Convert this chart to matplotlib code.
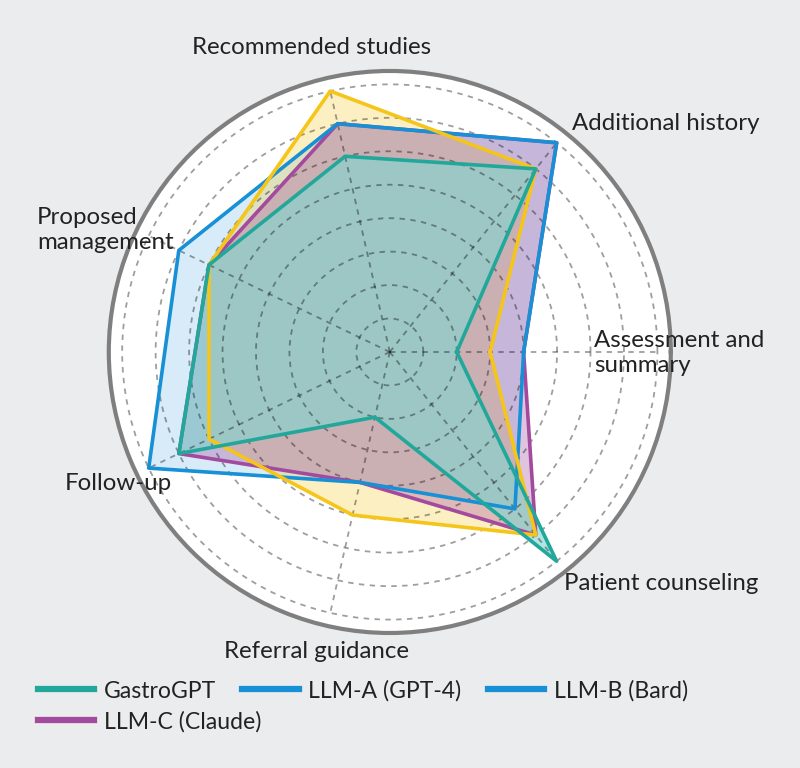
import numpy as np
import matplotlib.pyplot as plt
from matplotlib.lines import Line2D

# Data (radial score, one unit per ring)
categories = ["Assessment and\nsummary", "Additional history", "Recommended studies",
              "Proposed\nmanagement", "Follow-up", "Referral guidance", "Patient counseling"]
gastrogpt = [2, 7, 6, 6, 7, 2, 8]
llm_a = [4, 8, 7, 7, 8, 4, 6]
llm_b = [3, 7, 8, 6, 6, 5, 7]
llm_c = [4, 8, 7, 6, 7, 4, 7]

legend_labels = ["GastroGPT", "LLM-A (GPT-4)", "LLM-B (Bard)", "LLM-C (Claude)"]

teal = "#22a89b"
blue = "#1790d6"
yellow = "#f5c519"
purple = "#a34a9f"
bg = "#ebeced"

plt.rcParams['font.family'] = ['Lato', 'DejaVu Sans']

fig = plt.figure(figsize=(8, 7.68), dpi=100, facecolor=bg)
ax = fig.add_axes([0.136, 0.1758, 0.7025, 0.7318], projection='polar')
ax.set_facecolor("white")

n = len(categories)
angles = np.arange(n) * 2 * np.pi / n
theta = np.append(angles, angles[0])

def close(v):
    return np.append(v, v[0])

# fills: blue, yellow, purple, teal (teal on top)
ax.fill(theta, close(llm_a), color=blue, alpha=0.17, zorder=1, linewidth=0)
ax.fill(theta, close(llm_b), color=yellow, alpha=0.26, zorder=1, linewidth=0)
ax.fill(theta, close(llm_c), color=purple, alpha=0.33, zorder=1, linewidth=0)
ax.fill(theta, close(gastrogpt), color="#80d6d0", alpha=0.62, zorder=1, linewidth=0)

# outlines
ax.plot(theta, close(llm_c), color=purple, linewidth=2.6, zorder=3)
ax.plot(theta, close(llm_a), color=blue, linewidth=2.6, zorder=3)
ax.plot(theta, close(llm_b), color=yellow, linewidth=2.6, zorder=3)
ax.plot(theta, close(gastrogpt), color=teal, linewidth=2.6, zorder=3)

ax.set_ylim(0, 8.4)
ax.set_yticks(range(1, 9))
ax.set_yticklabels([])
ax.set_xticks(angles)
ax.set_xticklabels([])
ax.set_axisbelow(False)
ax.yaxis.grid(True, color="black", alpha=0.38, linestyle=(0, (3, 3)), linewidth=1.3)
ax.xaxis.grid(False)
for a in angles:
    ax.plot([a, a], [0, 8], color="black", alpha=0.38, linestyle=(0, (3, 3)),
            linewidth=1.3, zorder=2.5)
ax.spines['polar'].set_color("#7f7f7f")
ax.spines['polar'].set_linewidth(3)

# category labels (pixel positions from the reference)
W, H = 800, 768
fs = 17.3
txt = dict(fontsize=fs, color="#222222")
fig.text(594 / W, 1 - 353 / H, categories[0], ha="left", va="center", linespacing=1.2, **txt)
fig.text(572 / W, 1 - 123 / H, categories[1], ha="left", va="center", **txt)
fig.text(312 / W, 1 - 48 / H, categories[2], ha="center", va="center", **txt)
fig.text(37 / W, 1 - 230 / H, categories[3], ha="left", va="center", linespacing=1.2, **txt)
fig.text(172 / W, 1 - 483 / H, categories[4], ha="right", va="center", **txt)
fig.text(316 / W, 1 - 651 / H, categories[5], ha="center", va="center", **txt)
fig.text(564 / W, 1 - 583 / H, categories[6], ha="left", va="center", **txt)

# legend (as printed in the source: LLM-B swatch is blue)
handle_colors = [teal, blue, blue, purple]
handles = [Line2D([0], [0], color=c, linewidth=4.5) for c in handle_colors]
lfs = 16.6
leg_kw = dict(loc="upper left", frameon=False, fontsize=lfs, handlelength=2.45,
              handletextpad=0.4, columnspacing=1.15, borderpad=0, borderaxespad=0,
              labelcolor="#222222")
fig.legend(handles[:3], legend_labels[:3], ncol=3,
           bbox_to_anchor=(38 / W, 1 - 680 / H), **leg_kw)
fig.legend(handles[3:], legend_labels[3:], ncol=1,
           bbox_to_anchor=(38 / W, 1 - 711 / H), **leg_kw)

fig.savefig("out.png", dpi=100, facecolor=bg)
